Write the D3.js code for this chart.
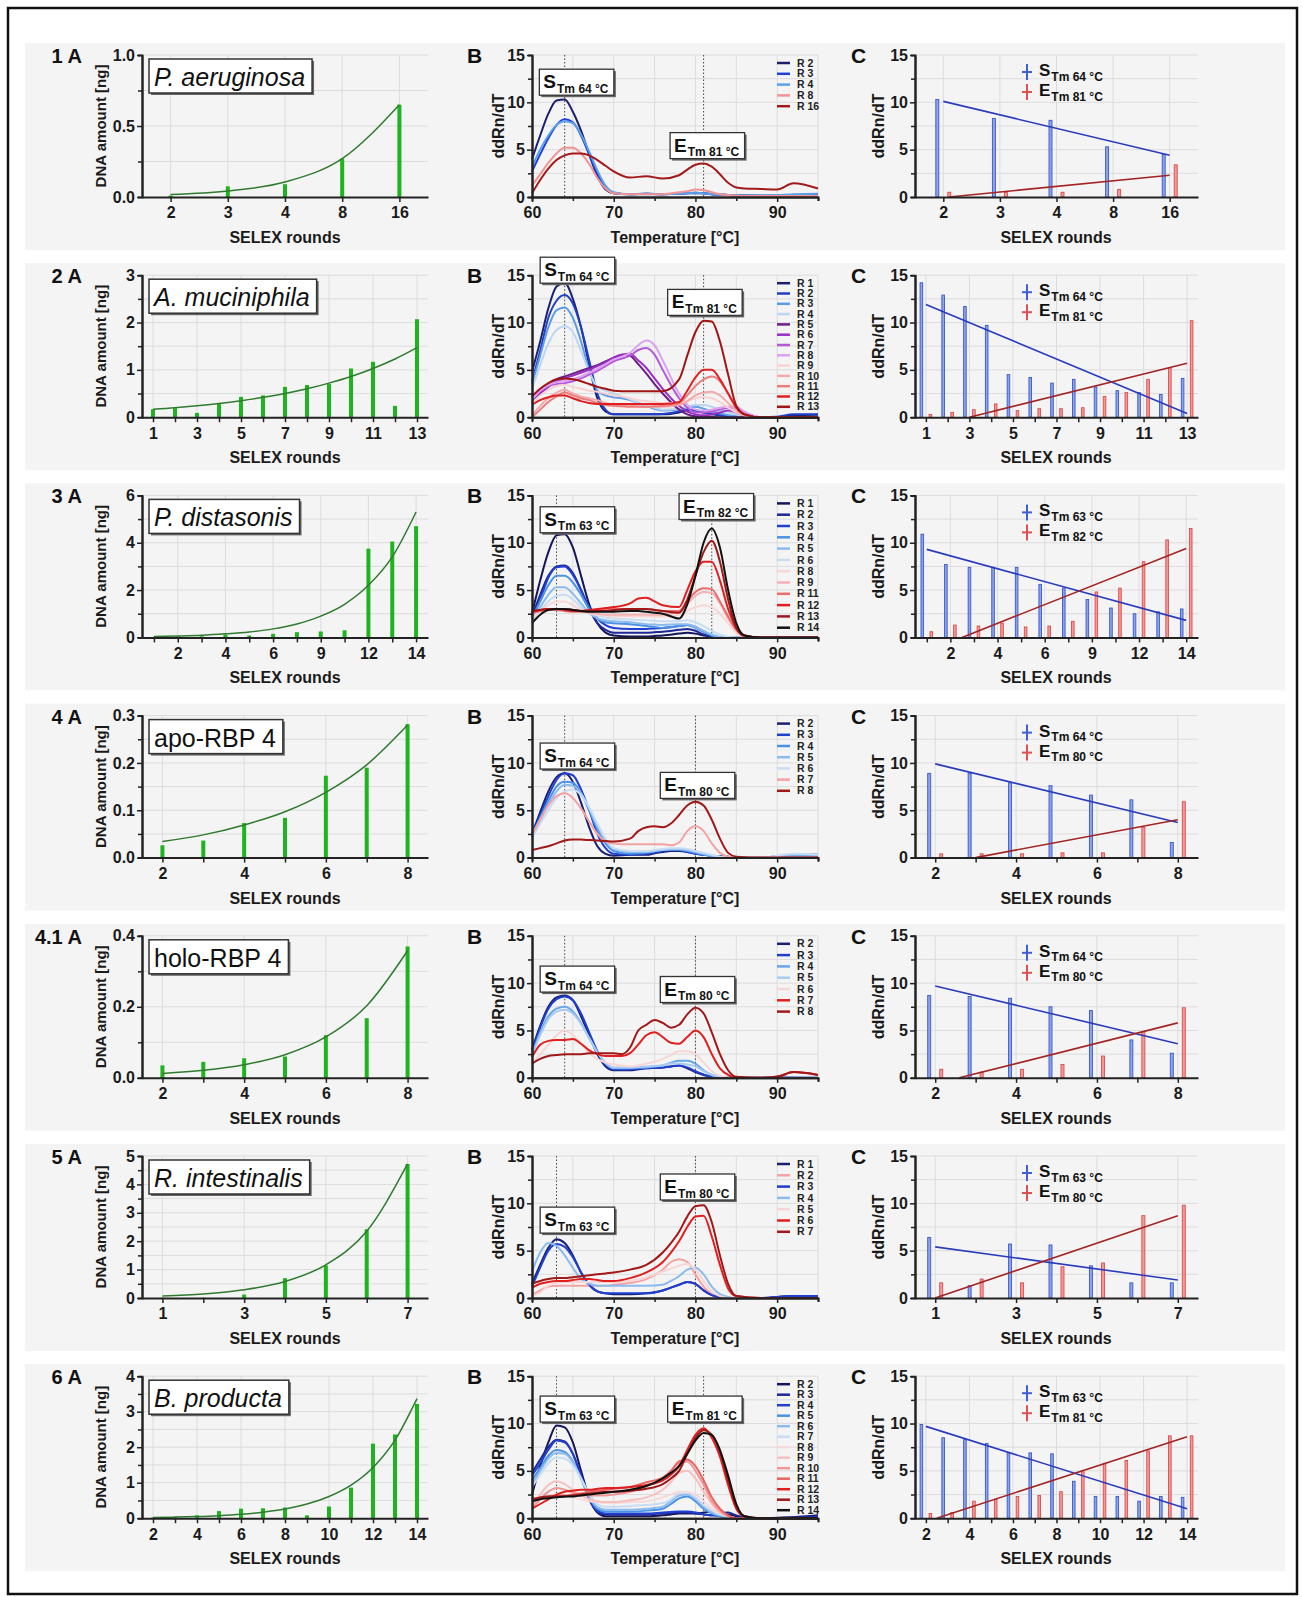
<!DOCTYPE html>
<html><head><meta charset="utf-8">
<script src="https://cdn.jsdelivr.net/npm/d3@7"></script>
<style>body{margin:0;background:#fff;} text{font-family:"Liberation Sans",Arial,sans-serif;}</style>
</head><body><svg id="c" width="1303" height="1597"></svg>
<script>
// ---------------- DATA ----------------
const rowLabels = ["1 A","2 A","3 A","4 A","4.1 A","5 A","6 A"];
const organisms = ["P. aeruginosa","A. muciniphila","P. distasonis","apo-RBP 4","holo-RBP 4","R. intestinalis","B. producta"];
const organismItalic = [true,true,true,false,false,true,true];

// Panel A: SELEX rounds, DNA amount [ng], exponential fit curve
const rounds1 = ["2","3","4","8","16"];
const rounds2 = ["1","2","3","4","5","6","7","8","9","10","11","12","13"];
const rounds3 = ["1","2","3","4","5","6","8","9","11","12","13","14"];
const rounds4 = ["2","3","4","5","6","7","8"];
const rounds5 = ["2","3","4","5","6","7","8"];
const rounds6 = ["1","2","3","4","5","6","7"];
const rounds7 = ["2","3","4","5","6","7","8","9","10","11","12","13","14"];
const shown1 = ["2","3","4","8","16"];
const shown2 = ["1","3","5","7","9","11","13"];
const shown3 = ["2","4","6","9","12","14"];
const shown4 = ["2","4","6","8"];
const shown5 = ["2","4","6","8"];
const shown6 = ["1","3","5","7"];
const shown7 = ["2","4","6","8","10","12","14"];
const dna1 = [0.01,0.075,0.09,0.27,0.65];
const dna2 = [0.17,0.19,0.09,0.3,0.43,0.46,0.64,0.68,0.7,1.03,1.17,0.24,2.07];
const dna3 = [0.02,0.04,0.05,0.12,0.08,0.15,0.22,0.25,0.3,3.75,4.05,4.7];
const dna4 = [0.026,0.036,0.073,0.084,0.173,0.19,0.282];
const dna5 = [0.035,0.045,0.055,0.06,0.12,0.168,0.37];
const dna6 = [0.01,0.01,0.12,0.7,1.15,2.42,4.72];
const dna7 = [0.02,0.03,0.08,0.2,0.27,0.28,0.3,0.08,0.33,0.86,2.1,2.36,3.22];
const fit1 = [0.017,0.042,0.106,0.27,0.65];
const fit2 = [0.17,0.2,0.24,0.29,0.35,0.42,0.5,0.6,0.72,0.86,1.03,1.23,1.47];
const fit3 = [0.04,0.06,0.09,0.15,0.23,0.36,0.57,0.9,1.4,2.2,3.4,5.3];
const fit4 = [0.034,0.048,0.069,0.097,0.138,0.196,0.28];
const fit5 = [0.012,0.021,0.037,0.065,0.115,0.203,0.358];
const fit6 = [0.07,0.14,0.29,0.58,1.17,2.35,4.72];
const fit7 = [0.02,0.031,0.047,0.072,0.11,0.17,0.26,0.4,0.61,0.93,1.43,2.2,3.37];
const dnaMax = [1,3,6,0.3,0.4,5,4];
const dnaTicks = [[0,0.5,1],[0,1,2,3],[0,2,4,6],[0,0.1,0.2,0.3],[0,0.2,0.4],[0,1,2,3,4,5],[0,1,2,3,4]];

// Panel B: melt curves ddRn/dT vs temperature
const temps1 = [60,61,62,63,64,65,66,67,68,69,70,72,74,76,78,79,80,81,82,83,84,85,86,88,90,92,95];
const names1 = ["R 2","R 3","R 4","R 8","R 16"];
const curves1 = [
 [4.0,6.5,8.8,10.2,10.3,9.0,7.0,4.5,2.2,0.8,0.4,0.3,0.35,0.3,0.35,0.4,0.4,0.4,0.3,0.25,0.2,0.15,0.15,0.1,0.1,0.1,0.15],
 [2.7,4.5,6.2,7.6,8.2,7.9,6.5,4.5,2.5,1.0,0.4,0.3,0.35,0.3,0.35,0.4,0.45,0.4,0.3,0.25,0.2,0.15,0.15,0.15,0.15,0.15,0.2],
 [3.2,5.0,6.5,7.6,8.0,7.8,6.6,4.8,2.8,1.2,0.5,0.3,0.3,0.3,0.35,0.4,0.45,0.4,0.3,0.25,0.2,0.15,0.15,0.15,0.2,0.3,0.35],
 [1.2,2.4,3.6,4.6,5.2,5.2,4.6,3.5,2.0,0.9,0.4,0.3,0.3,0.3,0.5,0.6,0.8,0.75,0.5,0.3,0.2,0.15,0.1,0.1,0.1,0.1,0.1],
 [0.4,1.8,3.0,3.9,4.4,4.6,4.6,4.4,3.9,3.3,2.7,2.05,2.2,1.95,2.3,2.9,3.4,3.55,3.2,2.4,1.5,1.0,0.9,0.85,0.8,1.45,0.9]];
const colors1 = ["#1a1f6e","#1f3fd8","#5aa0ea","#f29494","#a31a1a"];

const temps2 = [60,61,62,63,64,65,66,67,68,69,70,71,72,73,74,75,76,78,79,80,81,82,83,84,85,86,88,90,92,95];
const names2 = ["R 1","R 2","R 3","R 4","R 5","R 6","R 7","R 8","R 9","R 10","R 11","R 12","R 13"];
const curves2 = [
 [4.8,8,11.5,13.8,14.2,12.5,9.5,5.5,2.0,0.6,0.3,0.3,0.3,0.3,0.3,0.3,0.3,0.5,0.7,0.7,0.5,0.3,0.2,0.1,0,0,0,0,0.2,0.25],
 [3.8,7,10.5,12.3,12.9,12.0,9.5,6,2.5,0.8,0.3,0.3,0.3,0.3,0.3,0.3,0.35,0.6,0.8,0.7,0.5,0.4,0.2,0.1,0.05,0,0,0.05,0.3,0.3],
 [3.5,6.5,9.5,11.3,11.6,10.5,8,5,2.8,2.3,2.1,2.0,1.8,1.5,1.2,0.9,0.7,0.8,1.0,1.1,0.9,0.6,0.4,0.2,0.1,0,0,0,0,0],
 [3.0,5.5,7.8,9.2,9.6,9.0,7,4.8,3.2,2.8,2.5,2.2,1.9,1.5,1.2,1.0,0.8,0.9,1.1,1.3,1.3,1.1,0.8,0.5,0.3,0.1,0,0,0,0],
 [1.5,2.5,3.3,4.0,4.3,4.6,4.9,5.2,5.5,5.9,6.3,6.6,6.5,5.6,4.6,3.5,2.5,0.8,0.3,0.1,0.1,0.05,0,0,0,0,0,0,0,0],
 [1.5,2.5,3.2,3.8,4.1,4.4,4.7,5.0,5.4,5.8,6.3,6.6,6.7,6.0,5.2,4.1,3.0,1.2,0.6,0.3,0.2,0.3,0.5,0.7,0.5,0.2,0,0,0,0],
 [2.0,2.8,3.3,3.5,3.6,3.8,4.1,4.5,4.9,5.4,5.9,6.2,6.5,7.1,7.3,6.6,5.0,2.0,1.0,0.5,0.5,0.6,0.8,1.0,1.0,0.5,0,0,0,0],
 [2.0,2.8,3.4,3.7,3.8,4.0,4.3,4.7,5.1,5.6,6.1,6.4,6.8,7.6,8.1,7.6,6.0,2.5,1.3,0.8,0.7,0.8,1.0,1.1,1.1,0.6,0,0,0,0],
 [1.5,2.3,2.9,3.3,3.4,3.2,3.0,2.8,2.7,2.5,2.3,2.2,2.0,1.8,1.7,1.6,1.5,1.5,1.7,2.0,2.1,2.0,1.6,1.0,0.5,0.2,0,0,0,0],
 [0.2,1.2,2.0,2.6,2.9,2.5,2.2,2.0,1.8,1.5,1.3,1.25,1.2,1.15,1.1,1.1,1.1,1.3,1.7,2.3,2.6,2.7,2.3,1.5,0.7,0.2,0,0,0,0],
 [0,0.8,1.6,2.2,2.6,2.3,2.0,1.8,1.5,1.3,1.2,1.15,1.1,1.1,1.1,1.15,1.2,1.5,2.3,3.3,4.0,4.3,3.8,2.5,1.2,0.3,0,0,0,0],
 [1.3,1.8,2.1,2.3,2.3,2.0,1.7,1.5,1.4,1.4,1.4,1.4,1.4,1.4,1.4,1.4,1.4,1.6,2.8,4.2,5.0,5.0,4.0,2.5,1.0,0.3,0,0,0,0],
 [2.2,3.0,3.6,4.0,4.1,4.0,3.8,3.5,3.2,3.0,2.8,2.75,2.75,2.75,2.75,2.75,2.75,4.0,6.5,9.0,10.2,10.1,8.0,4.5,1.2,0.3,0,0,0,0]];
const colors2 = ["#1a1f6e","#1f3fc8","#5b9be6","#bcd6f2","#6a1e86","#9a2fc2","#b45ad8","#dca0f2","#f8d2d2","#f3aaaa","#ec7e7e","#e02020","#a01414"];

const temps3 = [60,61,62,63,64,65,66,67,68,69,70,72,73,74,75,76,78,79,80,81,82,83,84,85,86,88,95];
const names3 = ["R 1","R 2","R 3","R 4","R 5","R 6","R 8","R 9","R 11","R 12","R 13","R 14"];
const curves3 = [
 [2.5,6.0,9.0,10.8,10.9,9.5,6.5,3.5,1.5,0.5,0.2,0.1,0.1,0.1,0.15,0.2,0.4,0.5,0.4,0.2,0.1,0,0,0,0,0,0],
 [2.2,4.5,6.5,7.5,7.6,6.8,5.0,3.0,1.5,0.8,0.5,0.5,0.5,0.5,0.55,0.6,0.8,0.9,0.7,0.3,0.1,0,0,0,0,0,0],
 [2.0,4.0,6.3,7.4,7.5,6.6,5.0,3.2,2.0,1.3,1.0,0.9,0.9,0.9,0.95,1.0,1.2,1.3,1.1,0.6,0.2,0,0,0,0,0,0],
 [2.0,3.8,5.5,6.5,6.5,5.8,4.5,3.0,2.0,1.6,1.5,1.4,1.3,1.2,1.1,1.0,1.2,1.3,1.0,0.6,0.2,0,0,0,0,0,0],
 [1.8,3.2,4.5,5.3,5.3,4.6,3.6,2.6,2.0,1.8,1.7,1.6,1.5,1.4,1.35,1.3,1.4,1.4,1.1,0.7,0.3,0.05,0,0,0,0,0],
 [1.8,2.8,3.8,4.4,4.5,4.0,3.2,2.6,2.3,2.1,2.0,1.9,1.85,1.8,1.75,1.7,1.7,1.8,1.6,1.2,0.7,0.3,0.05,0,0,0,0],
 [2.0,2.8,3.4,3.8,3.8,3.4,2.9,2.6,2.4,2.3,2.2,2.2,2.2,2.2,2.2,2.2,2.4,2.8,3.2,3.4,3.2,2.5,1.5,0.5,0.1,0,0],
 [2.5,2.8,3.0,3.0,3.0,2.9,2.8,2.6,2.5,2.4,2.4,2.4,2.4,2.4,2.4,2.4,2.7,3.5,4.4,4.8,4.7,3.6,2.0,0.8,0.1,0,0],
 [2.6,2.8,2.9,2.9,2.8,2.7,2.7,2.8,2.9,3.0,3.0,3.0,3.0,3.0,2.9,2.8,2.8,3.8,4.8,5.2,5.1,3.8,2.2,0.8,0.1,0,0],
 [2.7,2.9,3.0,3.0,2.9,2.8,2.8,2.9,3.0,3.1,3.2,3.6,4.1,4.2,3.8,3.4,3.2,5.0,7.0,8.0,8.0,6.0,3.0,1.0,0.2,0,0],
 [2.8,2.9,3.0,3.0,3.0,2.9,2.8,2.8,2.8,2.8,2.9,3.0,3.0,3.0,2.9,2.8,2.6,4.0,6.5,9.0,10.2,8.0,4.0,1.0,0.2,0,0],
 [1.5,2.4,2.9,3.0,3.0,2.9,2.8,2.7,2.7,2.7,2.7,2.8,2.8,2.7,2.6,2.5,2.0,3.5,6.5,10.0,11.5,9.5,5.0,1.5,0.2,0,0]];
const colors3 = ["#15165a","#1e2896","#1f40d0","#4a92e4","#8bbbee","#c8dcf4","#f8d6d6","#f4b2b2","#ea6c6c","#e02020","#a01818","#111111"];

const temps4 = [60,61,62,63,64,65,66,67,68,69,70,72,73,74,75,76,77,78,79,80,81,82,83,84,85,88,92,95];
const names4 = ["R 2","R 3","R 4","R 5","R 6","R 7","R 8"];
const curves4 = [
 [2.5,4.8,7.0,8.5,8.9,8.0,5.8,3.2,1.2,0.4,0.2,0.3,0.3,0.3,0.45,0.6,0.7,0.7,0.6,0.4,0.3,0.2,0.15,0.1,0,0,0.3,0.3],
 [2.5,4.5,6.5,8.2,8.9,8.7,7.2,5.0,2.5,1.0,0.4,0.3,0.35,0.4,0.55,0.7,0.8,0.8,0.6,0.4,0.3,0.2,0.15,0.1,0,0,0.2,0.2],
 [2.3,4.2,6.0,7.5,8.0,7.9,6.8,5.0,3.0,1.5,0.7,0.4,0.45,0.5,0.65,0.8,0.8,0.8,0.7,0.5,0.3,0.2,0.1,0.05,0,0,0.2,0.25],
 [2.2,4.0,5.6,7.0,7.7,7.6,6.8,5.2,3.3,1.8,0.9,0.6,0.6,0.6,0.7,0.8,0.9,0.9,0.8,0.6,0.4,0.2,0.1,0.05,0,0,0.3,0.3],
 [2.0,3.6,5.0,6.3,7.0,7.2,6.6,5.3,3.6,2.0,1.0,0.7,0.7,0.7,0.8,0.9,1.0,1.0,0.9,0.7,0.5,0.3,0.1,0.05,0,0,0.4,0.3],
 [2.5,4.0,5.5,6.5,6.8,6.3,5.2,3.8,2.5,1.7,1.5,1.4,1.4,1.4,1.4,1.4,1.3,1.6,2.8,3.3,2.8,1.5,0.5,0.1,0,0,0,0],
 [0.8,1.0,1.2,1.5,1.8,1.9,1.9,1.85,1.8,1.75,1.7,2.0,2.8,3.2,3.3,3.2,3.6,4.5,5.5,5.9,5.5,4.0,2.0,0.5,0.1,0,0,0]];
const colors4 = ["#1a1f6e","#1f3fd0","#4a92e4","#8bbbee","#c8dcf4","#f4a2a2","#a01818"];

const temps5 = [60,61,62,63,64,65,66,67,68,69,70,71,72,73,74,75,76,77,78,79,80,81,82,83,84,85,88,90,92,95];
const names5 = ["R 2","R 3","R 4","R 5","R 6","R 7","R 8"];
const curves5 = [
 [3.0,5.5,7.5,8.5,8.7,8.2,6.5,4.5,2.5,1.2,0.8,0.8,0.8,0.9,1.0,1.05,1.1,1.2,1.3,1.0,0.6,0.3,0.1,0.05,0,0,0,0.1,0,0],
 [2.8,5.3,7.3,8.3,8.6,8.2,6.8,4.8,2.8,1.4,0.9,0.85,0.9,0.95,1.0,1.05,1.1,1.2,1.3,1.1,0.7,0.35,0.1,0.05,0,0,0,0.1,0.05,0],
 [2.5,4.8,6.5,7.3,7.5,7.0,5.8,4.2,2.7,1.5,1.0,1.0,1.0,1.05,1.1,1.2,1.3,1.6,1.8,1.8,1.5,0.8,0.3,0.1,0,0,0,0,0,0],
 [2.3,4.5,6.2,7.0,7.2,6.8,5.7,4.2,2.7,1.6,1.1,1.1,1.1,1.15,1.2,1.25,1.3,1.5,1.5,1.4,1.2,0.7,0.3,0.1,0,0,0,0,0,0],
 [1.5,2.5,3.5,4.5,5.0,4.5,3.6,2.6,2.0,1.6,1.4,1.3,1.2,1.3,1.5,1.7,2.0,2.4,2.8,2.8,2.5,1.6,0.7,0.2,0,0,0,0,0,0],
 [2.2,3.5,3.9,4.0,4.0,4.1,3.6,2.9,2.5,2.3,2.3,2.3,2.6,3.5,4.5,4.8,4.3,3.7,3.6,4.3,5.0,4.3,2.5,1.0,0.3,0,0,0.1,0.6,0.3],
 [1.5,2.0,2.3,2.4,2.5,2.5,2.5,2.6,2.6,2.6,2.6,2.5,3.2,5.0,5.6,6.1,5.8,5.3,5.6,6.7,7.4,6.8,4.8,2.5,0.8,0.1,0,0.1,0.6,0.3]];
const colors5 = ["#1a1f6e","#1f3fd0","#6aa6ea","#a8ccf2","#f8d6d6","#e02020","#a01818"];

const temps6 = [60,61,62,63,64,65,66,67,68,69,70,72,74,76,77,78,79,80,81,82,83,84,85,88,92,95];
const names6 = ["R 1","R 2","R 3","R 4","R 5","R 6","R 7"];
const curves6 = [
 [1.5,3.5,5.3,6.2,5.8,4.5,2.7,1.4,0.7,0.5,0.4,0.4,0.5,0.8,1.1,1.4,1.7,1.5,0.8,0.3,0.1,0,0,0,0.2,0.2],
 [0.3,0.8,1.2,1.3,1.3,1.3,1.3,1.3,1.3,1.3,1.4,1.6,2.0,3.0,3.8,4.1,3.8,2.5,1.2,0.4,0.1,0,0,0,0,0],
 [1.2,3.2,5.0,5.7,5.4,4.3,2.7,1.4,0.7,0.5,0.5,0.5,0.5,0.8,1.1,1.4,1.7,1.5,0.8,0.3,0.1,0,0,0,0.2,0.2],
 [2.8,4.8,5.8,5.5,4.5,3.2,2.0,1.5,1.3,1.3,1.3,1.3,1.3,1.4,1.8,2.3,3.0,3.2,2.5,1.2,0.4,0.1,0,0,0,0],
 [0.2,0.6,1.3,1.6,1.7,1.7,1.7,1.7,1.7,1.7,1.7,1.8,2.2,2.8,3.1,3.4,3.6,3.0,1.8,0.7,0.2,0,0,0,0,0],
 [1.1,1.5,1.7,1.8,1.8,1.9,2.0,2.0,1.9,1.8,1.8,2.1,2.7,3.8,4.8,6.0,7.5,8.6,8.7,6.5,3.5,1.0,0.2,0,0,0],
 [1.5,1.8,2.0,2.1,2.1,2.2,2.3,2.4,2.5,2.6,2.7,3.0,3.5,4.8,5.8,7.0,8.6,9.7,9.8,8.0,4.5,1.5,0.2,0,0,0]];
const colors6 = ["#1a1f6e","#f4a2a2","#1f3fd0","#8bbbee","#f8d6d6","#e02020","#a01818"];

const temps7 = [60,61,62,63,64,65,66,67,68,69,70,72,74,76,77,78,79,80,81,82,83,84,85,86,88,92,95];
const names7 = ["R 2","R 3","R 4","R 5","R 6","R 7","R 8","R 9","R 10","R 11","R 12","R 13","R 14"];
const curves7 = [
 [2.5,5.5,8.0,9.8,9.6,8.0,5.0,2.2,0.6,0.2,0.2,0.2,0.2,0.3,0.4,0.5,0.5,0.5,0.6,0.7,0.6,0.4,0.2,0.1,0,0.1,0.3],
 [4.8,6.2,7.5,8.3,8.1,6.8,4.5,2.0,0.7,0.4,0.4,0.4,0.4,0.5,0.55,0.6,0.6,0.5,0.4,0.3,0.5,0.6,0.3,0.1,0,0.1,0.2],
 [4.5,5.8,7.2,8.2,8.0,6.8,4.5,2.1,0.8,0.5,0.5,0.5,0.5,0.6,0.65,0.7,0.7,0.6,0.4,0.3,0.2,0.1,0,0,0,0,0.1],
 [4.0,5.3,6.6,7.2,7.0,6.0,4.2,2.2,1.0,0.7,0.7,0.7,0.8,1.0,1.5,2.1,2.3,1.8,1.0,0.5,0.2,0.1,0,0,0,0,0],
 [3.6,5.0,6.3,6.9,6.8,5.9,4.2,2.3,1.2,0.9,0.9,0.9,1.0,1.2,1.8,2.4,2.5,2.0,1.2,0.6,0.3,0.1,0,0,0,0,0],
 [3.3,4.6,5.8,6.4,6.3,5.6,4.2,2.6,1.5,1.2,1.2,1.3,1.4,1.6,2.0,2.6,2.7,2.2,1.4,0.8,0.4,0.2,0,0,0,0,0],
 [1.5,2.0,2.3,2.5,2.4,2.2,2.0,1.8,1.7,1.6,1.6,1.7,1.8,2.2,2.5,2.8,2.8,2.5,1.8,1.0,0.5,0.2,0,0,0,0,0],
 [1.2,2.5,3.5,3.9,3.6,3.0,2.4,2.0,1.8,1.7,1.7,1.9,2.2,3.0,3.8,4.8,5.0,4.2,2.8,1.5,0.6,0.2,0,0,0,0,0],
 [1.0,2.0,2.8,3.2,3.0,2.7,2.5,2.4,2.4,2.4,2.5,2.8,3.4,4.2,5.0,5.8,6.0,5.0,3.5,1.8,0.8,0.2,0,0,0,0,0],
 [2.0,2.2,2.3,2.4,2.4,2.5,2.6,2.8,2.9,3.0,3.1,3.3,3.8,4.3,5.0,6.0,6.2,5.5,4.0,2.2,1.0,0.3,0,0,0,0,0],
 [1.0,1.5,2.0,2.5,2.8,2.9,3.0,3.0,3.1,3.2,3.2,3.3,3.5,4.0,4.6,5.5,7.2,8.8,9.5,8.5,6.5,3.5,1.0,0.2,0,0,0],
 [2.0,2.2,2.3,2.3,2.3,2.4,2.5,2.6,2.7,2.8,2.8,2.9,3.1,3.6,4.2,5.0,6.8,8.5,9.3,8.8,7.0,4.0,1.2,0.2,0,0,0],
 [1.8,2.0,2.1,2.2,2.3,2.3,2.4,2.5,2.6,2.7,2.8,3.0,3.4,4.2,4.8,5.5,6.8,8.2,9.0,8.8,7.2,4.5,1.5,0.2,0,0,0]];
const colors7 = ["#15165a","#1e2896","#1f40d0","#4a92e4","#8bbbee","#c8dcf4","#f8dada","#f6c0c0","#f09898","#e86464","#e02020","#a01818","#111111"];

const sTm = [64,64,63,64,64,63,63];
const eTm = [81,81,82,80,80,80,81];

// Panel C: peak heights at S and E melting temperatures, with linear fits [first, last]
const sPeak1 = [10.3,8.3,8.1,5.3,4.5];
const ePeak1 = [0.5,0.5,0.5,0.8,3.4];
const sPeak2 = [14.2,12.9,11.7,9.7,4.5,4.2,3.6,4.0,3.2,2.8,2.6,2.4,4.1];
const ePeak2 = [0.3,0.5,0.8,1.4,0.7,0.9,0.9,1.0,2.2,2.6,4.0,5.2,10.2];
const sPeak3 = [10.9,7.7,7.4,7.4,7.4,5.6,5.2,4.0,3.1,2.5,2.7,3.0];
const ePeak3 = [0.6,1.3,1.2,1.5,1.1,1.2,1.7,4.8,5.2,8.0,10.3,11.5];
const sPeak4 = [8.9,8.9,7.9,7.6,6.6,6.1,1.6];
const ePeak4 = [0.4,0.4,0.4,0.5,0.5,3.2,5.9];
const sPeak5 = [8.7,8.6,8.4,7.5,7.1,4.0,2.6];
const ePeak5 = [0.9,0.6,0.9,1.4,2.3,4.9,7.4];
const sPeak6 = [6.4,1.3,5.7,5.6,3.4,1.6,1.6];
const ePeak6 = [1.6,2.0,1.6,3.3,3.7,8.7,9.8];
const sPeak7 = [9.9,8.5,8.3,7.9,6.9,6.9,6.8,3.9,2.3,2.3,1.8,2.3,2.2];
const ePeak7 = [0.5,0.6,1.8,2.0,2.3,2.4,2.8,4.9,5.8,6.1,7.1,8.7,8.7];
const sFit = [[10.1,4.4],[11.9,0.4],[9.3,1.8],[9.9,3.7],[9.7,3.6],[5.4,1.9],[9.7,1.0]];
const eFit = [[-0.06,2.3],[-1.14,5.7],[-1.48,9.4],[-0.8,4.0],[-0.64,5.8],[0,8.7],[-0.37,8.6]];

// ---------------- LAYOUT ----------------
const rounds = [rounds1,rounds2,rounds3,rounds4,rounds5,rounds6,rounds7];
const shown = [shown1,shown2,shown3,shown4,shown5,shown6,shown7];
const dna = [dna1,dna2,dna3,dna4,dna5,dna6,dna7];
const fits = [fit1,fit2,fit3,fit4,fit5,fit6,fit7];
const temps = [temps1,temps2,temps3,temps4,temps5,temps6,temps7];
const curves = [curves1,curves2,curves3,curves4,curves5,curves6,curves7];
const names = [names1,names2,names3,names4,names5,names6,names7];
const colors = [colors1,colors2,colors3,colors4,colors5,colors6,colors7];
const sPeaks = [sPeak1,sPeak2,sPeak3,sPeak4,sPeak5,sPeak6,sPeak7];
const ePeaks = [ePeak1,ePeak2,ePeak3,ePeak4,ePeak5,ePeak6,ePeak7];
// annotation anchors in data units (temperature, ddRn/dT) for the S and E boxes
const sBoxAt = [[60.9,13.5],[61,16.9],[61,13.8],[61,12.1],[61,11.8],[61,9.6],[61,12.9]];
const eBoxAt = [[76.9,6.8],[76.6,13.5],[78,15.2],[75.7,9.0],[75.7,10.7],[75.7,13.1],[76.6,12.9]];
const legendStep = [10.8,10.3,11.3,11.2,11.3,11.3,10.5];

const FONT = '"Liberation Sans",Arial,sans-serif';
const svg = d3.select('#c');
svg.append('rect').attr('width',1303).attr('height',1597).attr('fill','#fff');

function styleAxis(g, fs){
  g.select('.domain').attr('stroke','#222').attr('stroke-width',2);
  g.selectAll('.tick line').attr('stroke','#222').attr('stroke-width',1.5);
  g.selectAll('text').attr('font-size',fs||16).attr('font-weight','bold').attr('fill','#1a1a1a').attr('font-family',FONT);
}
function subText(g,x,y,main,sub,fm,fsub){
  const t=g.append('text').attr('x',x).attr('y',y).attr('font-weight','bold').attr('fill','#111').attr('font-family',FONT);
  t.append('tspan').attr('font-size',fm).text(main);
  t.append('tspan').attr('font-size',fsub).attr('dy',fsub*0.38).attr('dx',1).text(sub);
  return t;
}
function yAxisTitle(x,cy,txt,fs){
  svg.append('text').attr('transform',`translate(${x},${cy}) rotate(-90)`).attr('text-anchor','middle')
    .attr('font-size',fs).attr('font-weight','bold').attr('fill','#1a1a1a').attr('font-family',FONT).text(txt);
}
const mismatch=[];

for(let i=0;i<7;i++){
  const top = 55 + i*220.2, bot = top + 142, mid=(top+bot)/2;
  svg.append('rect').attr('x',25).attr('y',top-12).attr('width',1260).attr('height',207).attr('fill','#f4f4f4');

  // ---------- Panel A ----------
  const xA = d3.scalePoint().domain(rounds[i]).range([142,428]).padding(0.5);
  const yA = d3.scaleLinear().domain([0,dnaMax[i]]).range([bot,top]);
  const tk = dnaTicks[i], st=(tk[1]-tk[0])/2;
  const gA = svg.append('g');
  d3.range(st, dnaMax[i]+st/10, st).forEach(v=>{
    gA.append('line').attr('x1',142).attr('x2',428).attr('y1',yA(v)).attr('y2',yA(v)).attr('stroke','#dcdcdc');
  });
  shown[i].forEach(r=>{
    gA.append('line').attr('x1',xA(r)).attr('x2',xA(r)).attr('y1',top).attr('y2',bot).attr('stroke','#dcdcdc');
  });
  gA.selectAll('rect.bar').data(rounds[i].map((r,k)=>({r,v:dna[i][k]}))).enter().append('rect')
    .attr('x',d=>xA(d.r)-2).attr('width',4).attr('y',d=>yA(d.v)).attr('height',d=>bot-yA(d.v)).attr('fill','#1fb41f');
  gA.append('path').datum(rounds[i].map((r,k)=>[xA(r),yA(fits[i][k])]))
    .attr('d',d3.line().curve(d3.curveMonotoneX)).attr('fill','none').attr('stroke','#2f7a2f').attr('stroke-width',1.5);
  const fmtA = dnaMax[i]<=1 ? d3.format('.1f') : d3.format('d');
  gA.append('g').attr('transform',`translate(142,0)`).call(d3.axisLeft(yA).tickValues(d3.range(st,dnaMax[i],st*2)).tickSize(4).tickFormat('')).call(g=>styleAxis(g));
  gA.append('g').attr('transform',`translate(142,0)`).call(d3.axisLeft(yA).tickValues(tk).tickSize(5).tickPadding(2).tickSizeOuter(0).tickFormat(fmtA)).call(g=>styleAxis(g));
  gA.append('g').attr('transform',`translate(0,${bot})`).call(d3.axisBottom(xA).tickSize(5).tickPadding(5).tickSizeOuter(0)
    .tickFormat(d=>shown[i].includes(d)?d:'')).call(g=>styleAxis(g));
  gA.append('text').attr('x',285).attr('y',bot+46).attr('text-anchor','middle').attr('font-size',16).attr('font-weight','bold').attr('fill','#1a1a1a').text('SELEX rounds');
  yAxisTitle(106,mid,'DNA amount [ng]',15);
  svg.append('text').attr('x',82).attr('y',top+8).attr('text-anchor','end').attr('font-size',20).attr('font-weight','bold').attr('fill','#111').text(rowLabels[i]);
  // organism box
  const ob = svg.append('g').attr('transform',`translate(149,${top+4})`);
  const shadow = ob.append('rect').attr('x',2).attr('y',2).attr('height',34).attr('fill','#666');
  const box = ob.append('rect').attr('height',34).attr('fill','#fff').attr('stroke','#333').attr('stroke-width',1.5);
  const ot = ob.append('text').attr('x',5).attr('y',27).attr('font-size',25).attr('fill','#111')
     .attr('font-style',organismItalic[i]?'italic':'normal').text(organisms[i]);
  const ow = ot.node().getComputedTextLength()+12;
  box.attr('width',ow); shadow.attr('width',ow);

  // ---------- Panel B ----------
  const xB = d3.scaleLinear().domain([60,95]).range([532,818]);
  const yB = d3.scaleLinear().domain([0,15]).range([bot,top]);
  const gB = svg.append('g');
  [2.5,5,7.5,10,12.5,15].forEach(v=>gB.append('line').attr('x1',532).attr('x2',818).attr('y1',yB(v)).attr('y2',yB(v)).attr('stroke','#dcdcdc'));
  [65,70,75,80,85,90,95].forEach(v=>gB.append('line').attr('x1',xB(v)).attr('x2',xB(v)).attr('y1',top).attr('y2',bot).attr('stroke','#dcdcdc'));
  [sTm[i],eTm[i]].forEach(v=>gB.append('line').attr('x1',xB(v)).attr('x2',xB(v)).attr('y1',top).attr('y2',bot)
     .attr('stroke','#444').attr('stroke-width',1).attr('stroke-dasharray','1.5,2'));
  const lineB = d3.line().x(d=>xB(d[0])).y(d=>yB(d[1])).curve(d3.curveMonotoneX);
  curves[i].forEach((c,k)=>{
    if(c.length!==temps[i].length) mismatch.push(`row${i+1} ${names[i][k]} ${c.length}/${temps[i].length}`);
    gB.append('path').datum(temps[i].map((t,j)=>[t,c[j]])).attr('d',lineB).attr('fill','none')
      .attr('stroke',colors[i][k]).attr('stroke-width',2).attr('stroke-linejoin','round');
  });
  gB.append('g').attr('transform','translate(532,0)').call(d3.axisLeft(yB).tickValues([2.5,7.5,12.5]).tickSize(4).tickFormat('')).call(g=>styleAxis(g));
  gB.append('g').attr('transform','translate(532,0)').call(d3.axisLeft(yB).tickValues([0,5,10,15]).tickSize(5).tickPadding(2).tickSizeOuter(0)).call(g=>styleAxis(g));
  gB.append('g').attr('transform',`translate(0,${bot})`).call(d3.axisBottom(xB).tickValues([65,75,85,95]).tickSize(4).tickFormat('')).call(g=>styleAxis(g));
  gB.append('g').attr('transform',`translate(0,${bot})`).call(d3.axisBottom(xB).tickValues([60,70,80,90]).tickSize(5).tickPadding(5).tickSizeOuter(0)).call(g=>styleAxis(g));
  gB.append('text').attr('x',675).attr('y',bot+46).attr('text-anchor','middle').attr('font-size',16).attr('font-weight','bold').attr('fill','#1a1a1a').text('Temperature [°C]');
  yAxisTitle(504,mid,'ddRn/dT',16);
  svg.append('text').attr('x',467).attr('y',top+8).attr('font-size',21).attr('font-weight','bold').attr('fill','#111').text('B');
  // legend
  names[i].forEach((n,k)=>{
    const ly = top+8+k*legendStep[i];
    gB.append('line').attr('x1',777).attr('x2',790).attr('y1',ly).attr('y2',ly).attr('stroke',colors[i][k]).attr('stroke-width',2.5);
    gB.append('text').attr('x',797).attr('y',ly+3.6).attr('font-size',10.5).attr('font-weight','bold').attr('fill','#222').text(n);
  });
  // annotation boxes
  [[sBoxAt[i],'S',sTm[i]],[eBoxAt[i],'E',eTm[i]]].forEach(([p,L,t])=>{
    const g = gB.append('g').attr('transform',`translate(${xB(p[0])},${yB(p[1])})`);
    const sh = g.append('rect').attr('x',2).attr('y',2).attr('height',26).attr('fill','#666');
    const bx = g.append('rect').attr('height',26).attr('fill','#fff').attr('stroke','#333').attr('stroke-width',1.3);
    const tx = subText(g,4,19,L,`Tm ${t} °C`,19,12);
    const w = tx.node().getBBox().width+9;
    bx.attr('width',w); sh.attr('width',w);
  });

  // ---------- Panel C ----------
  const xC = d3.scalePoint().domain(rounds[i]).range([915,1198]).padding(0.5);
  const yC = d3.scaleLinear().domain([0,15]).range([bot,top]);
  const gC = svg.append('g');
  [2.5,5,7.5,10,12.5,15].forEach(v=>gC.append('line').attr('x1',915).attr('x2',1198).attr('y1',yC(v)).attr('y2',yC(v)).attr('stroke','#dcdcdc'));
  shown[i].forEach(r=>gC.append('line').attr('x1',xC(r)).attr('x2',xC(r)).attr('y1',top).attr('y2',bot).attr('stroke','#dcdcdc'));
  const bw = rounds[i].length>10 ? 2.6 : 3;
  const off = rounds[i].length>10 ? 4.5 : 6;
  rounds[i].forEach((r,k)=>{
    gC.append('rect').attr('x',xC(r)-off-bw/2).attr('width',bw).attr('y',yC(sPeaks[i][k])).attr('height',bot-yC(sPeaks[i][k]))
      .attr('fill','#8ea4e6').attr('stroke','#3a58cc').attr('stroke-width',0.9);
    gC.append('rect').attr('x',xC(r)+off-bw/2).attr('width',bw).attr('y',yC(ePeaks[i][k])).attr('height',bot-yC(ePeaks[i][k]))
      .attr('fill','#f09a9a').attr('stroke','#dc4c4c').attr('stroke-width',0.9);
  });
  const n = rounds[i].length, x0 = xC(rounds[i][0]), step = xC.step();
  function fitLine(f,color){
    let a=0,b=n-1;
    const val = t=>f[0]+(f[1]-f[0])*t/(n-1);
    if(val(a)<0){ a = -f[0]*(n-1)/(f[1]-f[0]); }
    gC.append('line').attr('x1',x0+a*step).attr('y1',yC(val(a))).attr('x2',x0+b*step).attr('y2',yC(val(b)))
      .attr('stroke',color).attr('stroke-width',1.6);
  }
  fitLine(sFit[i],'#2b3bbd');
  fitLine(eFit[i],'#a32424');
  gC.append('g').attr('transform','translate(915,0)').call(d3.axisLeft(yC).tickValues([2.5,7.5,12.5]).tickSize(4).tickFormat('')).call(g=>styleAxis(g));
  gC.append('g').attr('transform','translate(915,0)').call(d3.axisLeft(yC).tickValues([0,5,10,15]).tickSize(5).tickPadding(2).tickSizeOuter(0)).call(g=>styleAxis(g));
  gC.append('g').attr('transform',`translate(0,${bot})`).call(d3.axisBottom(xC).tickSize(5).tickPadding(5).tickSizeOuter(0)
    .tickFormat(d=>shown[i].includes(d)?d:'')).call(g=>styleAxis(g));
  gC.append('text').attr('x',1056).attr('y',bot+46).attr('text-anchor','middle').attr('font-size',16).attr('font-weight','bold').attr('fill','#1a1a1a').text('SELEX rounds');
  yAxisTitle(884,mid,'ddRn/dT',16);
  svg.append('text').attr('x',851).attr('y',top+8).attr('font-size',21).attr('font-weight','bold').attr('fill','#111').text('C');
  [['S',sTm[i],'#3f5fd6',17],['E',eTm[i],'#e05050',37]].forEach(([L,t,c,dy])=>{
    const cy = top+dy;
    gC.append('line').attr('x1',1027).attr('x2',1027).attr('y1',cy-8).attr('y2',cy+8).attr('stroke',c).attr('stroke-width',2);
    gC.append('line').attr('x1',1022).attr('x2',1032).attr('y1',cy).attr('y2',cy).attr('stroke',c).attr('stroke-width',2);
    subText(gC,1039,cy+4,L,`Tm ${t} °C`,17,12);
  });
}
// outer frame
svg.append('rect').attr('x',8).attr('y',8).attr('width',1289).attr('height',1586).attr('fill','none').attr('stroke','#111').attr('stroke-width',2.5);
if(mismatch.length) setTimeout(()=>{throw new Error('length mismatch: '+mismatch.join('; '));},0);
</script></body></html>
